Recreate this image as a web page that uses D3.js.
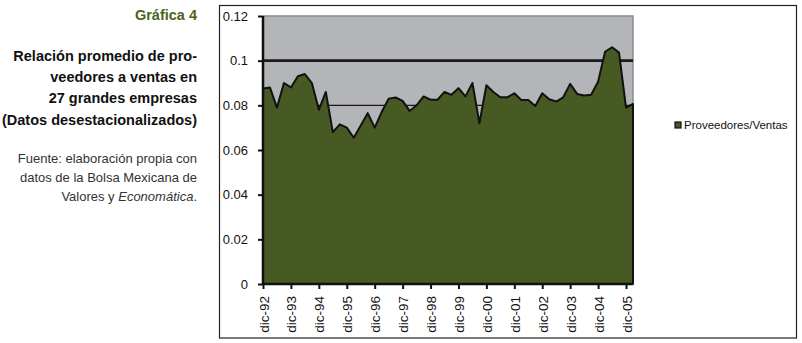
<!DOCTYPE html>
<html lang="es">
<head>
    <meta charset="utf-8">
    <title>Gráfica 4</title>
    <script src="https://d3js.org/d3.v7.min.js"></script>
    <style>
        body { margin: 0; background: #fff; }
        text { font-family: "Liberation Sans", Arial, sans-serif; }
    </style>
</head>
<body>
<script>

// quarterly values, dic-92 .. mar-06
var values = [0.0875, 0.088, 0.079, 0.090, 0.088, 0.093, 0.094, 0.090, 0.078, 0.086,
              0.068, 0.0715, 0.070, 0.0655, 0.071, 0.0765, 0.070, 0.077, 0.083, 0.0835,
              0.082, 0.0775, 0.080, 0.084, 0.0825, 0.0825, 0.086, 0.0847, 0.0877, 0.084,
              0.090, 0.072, 0.089, 0.086, 0.0836, 0.0836, 0.0854, 0.0824, 0.0824, 0.0797,
              0.0854, 0.0827, 0.0817, 0.0836, 0.0896, 0.0851, 0.0844, 0.0847, 0.0906, 0.104,
              0.106, 0.1036, 0.079, 0.0806];

var months = ["dic", "mar", "jun", "sep"];
// category labels (quarters)
var categories = values.map(function (d, i) {
    var yr = 92 + Math.ceil(i / 4);
    return months[i % 4] + "-" + String(yr % 100).padStart(2, "0");
});

var tickLabels = ["dic-92", "dic-93", "dic-94", "dic-95", "dic-96", "dic-97", "dic-98",
                  "dic-99", "dic-00", "dic-01", "dic-02", "dic-03", "dic-04", "dic-05"];
var yTicks = [0, 0.02, 0.04, 0.06, 0.08, 0.1, 0.12];
var gridLines = [0.08, 0.1];
var seriesName = "Proveedores/Ventas";

var titleLines = ["Relación promedio de pro-", "veedores a ventas en",
                  "27 grandes empresas", "(Datos desestacionalizados)"];

const W = 802, H = 343;
const pLeft = 263, pRight = 633, pTop = 16, pBottom = 284;
const green = "#475a23";

var svg = d3.select("body").append("svg")
    .attr("width", W)
    .attr("height", H);

// left side text
svg.append("text")
    .attr("x", 197).attr("y", 20)
    .attr("text-anchor", "end")
    .attr("font-size", 14.5).attr("font-weight", "bold")
    .attr("fill", "#4b6223")
    .text("Gráfica 4");

svg.selectAll(".title").data(titleLines).enter()
    .append("text")
    .attr("class", "title")
    .attr("x", 197)
    .attr("y", function (d, i) { return 61 + i * 21.2; })
    .attr("text-anchor", "end")
    .attr("font-size", 14.5).attr("font-weight", "bold")
    .attr("fill", "#111")
    .text(function (d) { return d; });

var src = svg.append("g").attr("font-size", 13).attr("fill", "#333").attr("text-anchor", "end");
src.append("text").attr("x", 197).attr("y", 163).text("Fuente: elaboración propia con");
src.append("text").attr("x", 197).attr("y", 182).text("datos de la Bolsa Mexicana de");
var t3 = src.append("text").attr("x", 197).attr("y", 201);
t3.append("tspan").text("Valores y ");
t3.append("tspan").attr("font-style", "italic").text("Economática");
t3.append("tspan").text(".");

// chart frame
svg.append("rect")
    .attr("x", 219.5).attr("y", 5.5)
    .attr("width", 577).attr("height", 332.5)
    .attr("fill", "none").attr("stroke", "#222").attr("stroke-width", 1.2);

var x = d3.scalePoint().domain(categories).range([pLeft, pRight]);
var y = d3.scaleLinear().domain([0, 0.12]).range([pBottom, pTop]);

// plot background
svg.append("rect")
    .attr("x", pLeft).attr("y", pTop)
    .attr("width", pRight - pLeft).attr("height", pBottom - pTop)
    .attr("fill", "#b4b5b9");
svg.append("path")
    .attr("d", "M" + pLeft + "," + pTop + "H" + pRight + "V" + pBottom)
    .attr("fill", "none").attr("stroke", "#8a8a8e").attr("stroke-width", 1.5);

// gridlines
svg.selectAll(".grid").data(gridLines).enter()
    .append("line")
    .attr("x1", pLeft).attr("x2", pRight)
    .attr("y1", function (d) { return y(d); })
    .attr("y2", function (d) { return y(d); })
    .attr("stroke", "#1a1a1a")
    .attr("stroke-width", function (d) { return d === 0.1 ? 2.6 : 1.3; });

// area
var area = d3.area()
    .x(function (d, i) { return x(categories[i]); })
    .y0(y(0))
    .y1(function (d) { return y(d); });

svg.append("path")
    .datum(values)
    .attr("d", area)
    .attr("fill", green)
    .attr("stroke", "#111")
    .attr("stroke-width", 2)
    .attr("stroke-linejoin", "round");

// y axis
var yAxis = svg.append("g")
    .attr("transform", "translate(" + pLeft + ",0)")
    .call(d3.axisLeft(y).tickValues(yTicks).tickSize(5).tickPadding(10)
        .tickFormat(function (d) { return String(+d.toFixed(2)); }));
yAxis.select(".domain").attr("stroke", "#111").attr("stroke-width", 2.5)
    .attr("d", "M0," + pTop + "V" + pBottom);
yAxis.selectAll(".tick line").attr("stroke", "#111").attr("stroke-width", 2);
yAxis.selectAll(".tick text")
    .attr("font-family", "Liberation Sans, Arial, sans-serif")
    .attr("font-size", 13).attr("fill", "#111");

// x axis
var xAxis = svg.append("g")
    .attr("transform", "translate(0," + pBottom + ")")
    .call(d3.axisBottom(x).tickValues(tickLabels).tickSize(5).tickPadding(0));
xAxis.select(".domain").attr("stroke", "#111").attr("stroke-width", 2.5)
    .attr("d", "M" + pLeft + ",0H" + pRight);
xAxis.selectAll(".tick line").attr("stroke", "#111").attr("stroke-width", 2);
xAxis.selectAll(".tick text")
    .attr("font-family", "Liberation Sans, Arial, sans-serif")
    .attr("font-size", 13.5).attr("fill", "#111")
    .attr("text-anchor", "end")
    .attr("dy", null)
    .attr("y", 0)
    .attr("transform", "translate(5,12) rotate(-90)");

// legend
svg.append("rect")
    .attr("x", 675).attr("y", 122)
    .attr("width", 6).attr("height", 6)
    .attr("fill", green).attr("stroke", "#111").attr("stroke-width", 1.2);
svg.append("text")
    .attr("x", 684).attr("y", 129)
    .attr("font-size", 11.5).attr("fill", "#111")
    .text(seriesName);

</script>
</body>
</html>
